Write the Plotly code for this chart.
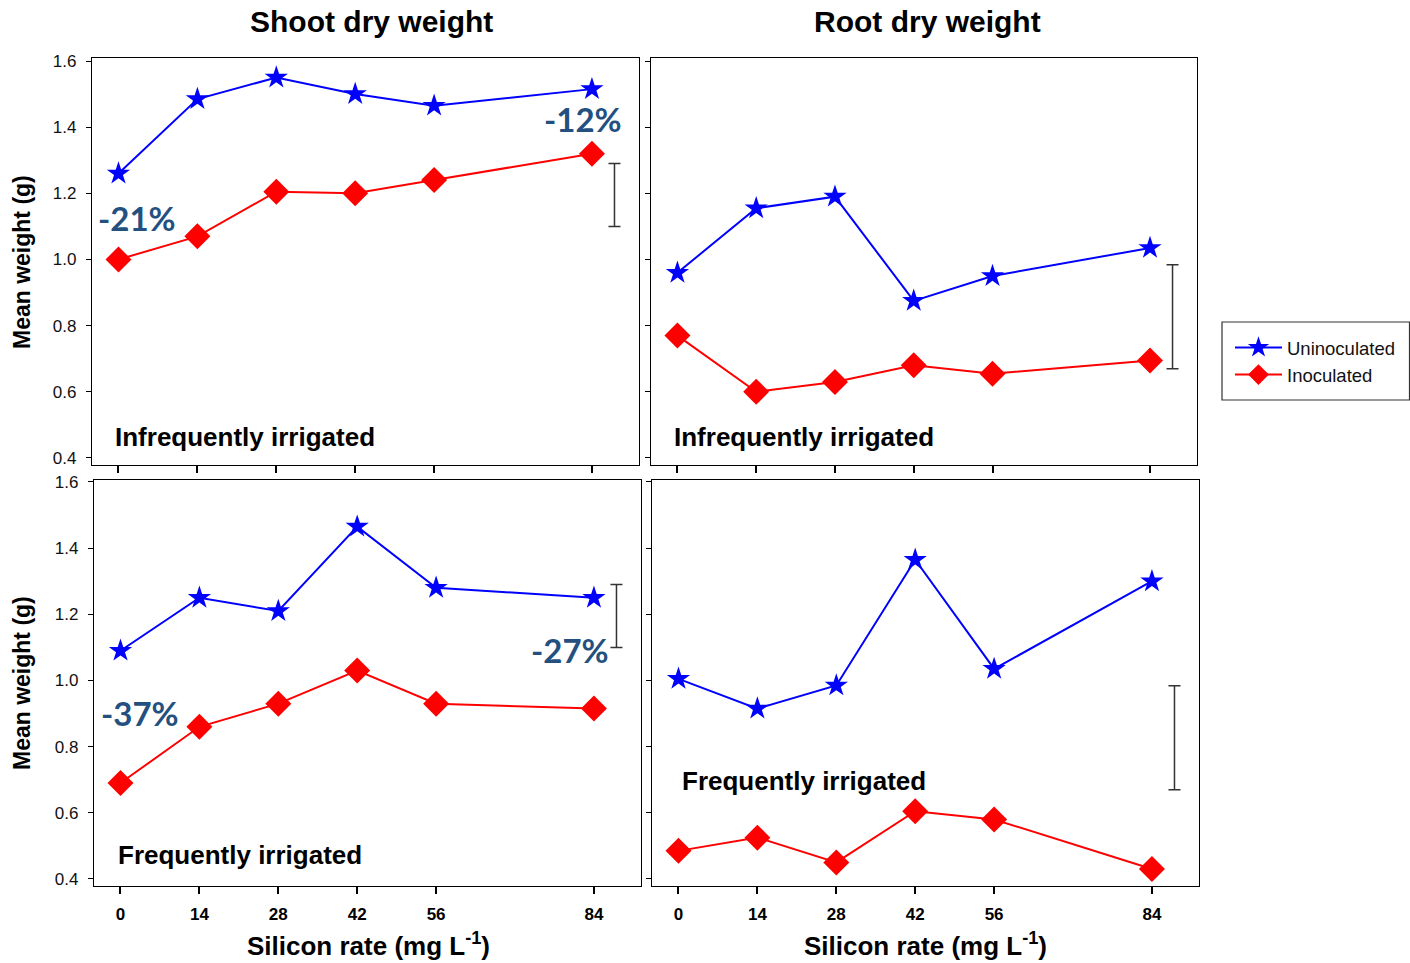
import plotly.graph_objects as go

# Silicon rates applied (mg L-1)
silicon = [0, 14, 28, 42, 56, 84]
tick_vals = [0, 14, 28, 42, 56, 84]
tick_text = ["0", "14", "28", "42", "56", "84"]
y_ticks = [0.4, 0.6, 0.8, 1.0, 1.2, 1.4, 1.6]
y_tick_text = ["0.4", "0.6", "0.8", "1.0", "1.2", "1.4", "1.6"]

# Mean dry weight (g)
shoot_infreq_uninoc = [1.26, 1.485, 1.55, 1.50, 1.465, 1.515]
shoot_infreq_inoc = [1.00, 1.07, 1.205, 1.20, 1.24, 1.32]
root_infreq_uninoc = [0.96, 1.155, 1.19, 0.875, 0.95, 1.035]
root_infreq_inoc = [0.77, 0.60, 0.63, 0.68, 0.655, 0.695]
shoot_freq_uninoc = [1.09, 1.25, 1.21, 1.465, 1.28, 1.25]
shoot_freq_inoc = [0.69, 0.86, 0.93, 1.03, 0.93, 0.915]
root_freq_uninoc = [1.005, 0.915, 0.985, 1.365, 1.035, 1.30]
root_freq_inoc = [0.485, 0.525, 0.45, 0.605, 0.58, 0.43]

# LSD bars (centre and half-length) per organ
lsd_x = 88
shoot_lsd_mid, shoot_lsd_half = 1.195, 0.095
root_lsd_mid, root_lsd_half = 0.827, 0.157

W, H = 1410, 963
BLUE = "#0000FF"
RED = "#FF0000"
PCT = "#24507F"
FONT = "Liberation Sans, Arial, sans-serif"


def px_x(a, b):
    return [a / W, b / W]


def px_y(top, bottom):
    return [1 - bottom / H, 1 - top / H]


panels = [
    # (x suffix, x domain, y domain, uninoc, inoc, lsd mid, lsd half, show x labels, show y labels, y range)
    ("", px_x(92, 639), px_y(58, 465), shoot_infreq_uninoc, shoot_infreq_inoc,
     shoot_lsd_mid, shoot_lsd_half, False, True, [0.3788, 1.6091]),
    ("2", px_x(651, 1197), px_y(58, 465), root_infreq_uninoc, root_infreq_inoc,
     root_lsd_mid, root_lsd_half, False, False, [0.3788, 1.6091]),
    ("3", px_x(94, 641), px_y(480, 886), shoot_freq_uninoc, shoot_freq_inoc,
     shoot_lsd_mid, shoot_lsd_half, True, True, [0.3788, 1.606]),
    ("4", px_x(652, 1199), px_y(480, 886), root_freq_uninoc, root_freq_inoc,
     root_lsd_mid, root_lsd_half, True, False, [0.3788, 1.606]),
]

fig = go.Figure()
layout = dict(
    template="none",
    width=W, height=H,
    margin=dict(l=0, r=0, t=0, b=0, pad=0, autoexpand=False),
    paper_bgcolor="white", plot_bgcolor="white",
    font=dict(family=FONT, color="#000"),
    showlegend=True,
    legend=dict(
        x=1230 / W, y=1 - 329 / H, xanchor="left", yanchor="top",
        borderwidth=0, bgcolor="rgba(0,0,0,0)",
        font=dict(family=FONT, size=18.5, color="#111"),
        itemwidth=47, tracegroupgap=0,
    ),
    shapes=[dict(type="rect", xref="paper", yref="paper",
                 x0=1222 / W, x1=1409.5 / W, y0=1 - 400 / H, y1=1 - 322 / H,
                 line=dict(color="#333", width=1.2), fillcolor="rgba(0,0,0,0)",
                 layer="below")],
)

for i, (s, xd, yd, unin, inoc, mid, half, sx, sy, yr) in enumerate(panels):
    xa, ya = "x" + s, "y" + s
    fig.add_trace(go.Scatter(
        x=silicon, y=unin, xaxis=xa, yaxis=ya, mode="lines+markers",
        name="Uninoculated", legendgroup="u", showlegend=(i == 0),
        line=dict(color=BLUE, width=2),
        marker=dict(symbol="star", size=17.5, color=BLUE, line=dict(width=0)),
    ))
    fig.add_trace(go.Scatter(
        x=silicon, y=inoc, xaxis=xa, yaxis=ya, mode="lines+markers",
        name="Inoculated", legendgroup="i", showlegend=(i == 0),
        line=dict(color=RED, width=2),
        marker=dict(symbol="diamond", size=20, color=RED, line=dict(width=0)),
    ))
    fig.add_trace(go.Scatter(
        x=[lsd_x], y=[mid], xaxis=xa, yaxis=ya, mode="markers",
        showlegend=False, hoverinfo="skip",
        marker=dict(size=1, color="rgba(0,0,0,0)"),
        error_y=dict(type="data", array=[half], visible=True,
                     color="#333", thickness=1.5, width=6),
    ))
    layout["xaxis" + s] = dict(
        domain=xd, anchor=ya, range=[-4.7, 92.35], automargin=False,
        tickmode="array", tickvals=tick_vals, ticktext=tick_text,
        showticklabels=sx, ticks="outside", ticklen=7, tickwidth=1.5,
        tickcolor="#000", ticklabelstandoff=5,
        tickfont=dict(family=FONT, size=17, weight="bold", color="#000"),
        showline=True, linecolor="#000", linewidth=1.2, mirror=True,
        showgrid=False, zeroline=False,
    )
    layout["yaxis" + s] = dict(
        domain=yd, anchor=xa, range=yr, automargin=False,
        tickmode="array", tickvals=y_ticks, ticktext=y_tick_text,
        showticklabels=sy, ticks="outside", ticklen=5, tickwidth=1.2,
        tickcolor="#000", ticklabelstandoff=6,
        tickfont=dict(family=FONT, size=17, color="#111"),
        showline=True, linecolor="#000", linewidth=1.2, mirror=True,
        showgrid=False, zeroline=False,
    )

ann = []


def paper_text(txt, x, y, size, xanchor="center", angle=0, **font):
    return dict(text=txt, x=x / W, y=1 - y / H, xref="paper", yref="paper",
                xanchor=xanchor, yanchor="middle", textangle=angle, showarrow=False,
                font=dict(family=FONT, size=size, weight="bold", **font))


# Column titles
for txt, cx in [("Shoot dry weight", 371), ("Root dry weight", 928)]:
    ann.append(paper_text(txt, cx, 22, 30))
# Y axis titles
for cy in [262, 683]:
    ann.append(paper_text("Mean weight (g)", 22, cy, 23, angle=-90))
# X axis titles
for cx in [368, 926]:
    ann.append(paper_text("Silicon rate (mg L<sup>-1</sup>)", cx, 944, 26))
# Irrigation regime labels
for txt, lx, ly in [("Infrequently irrigated", 113, 437), ("Infrequently irrigated", 672, 437),
                    ("Frequently irrigated", 116, 855), ("Frequently irrigated", 680, 781)]:
    ann.append(paper_text(txt, lx, ly, 26, xanchor="left"))
# Percentage reductions due to inoculation
for txt, xa, ya, xv, yv in [("-21%", "x", "y", 3.2, 1.125), ("-12%", "x", "y", 82.4, 1.425),
                            ("-37%", "x3", "y3", 3.4, 0.902), ("-27%", "x3", "y3", 79.7, 1.092)]:
    ann.append(dict(text=txt, x=xv, y=yv, xref=xa, yref=ya, showarrow=False,
                    xanchor="center", yanchor="middle",
                    font=dict(family="Lato, Open Sans, sans-serif", size=33,
                              weight="bold", color=PCT)))

layout["annotations"] = ann
fig.update_layout(**layout)
fig.write_html("out.html")
